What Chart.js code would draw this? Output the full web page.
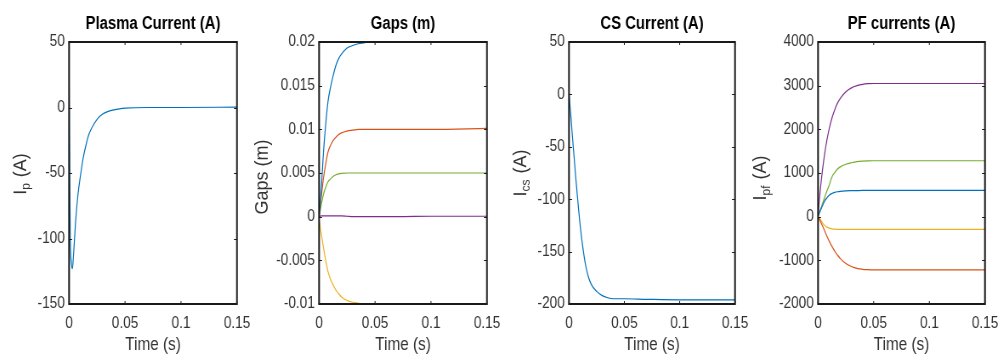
<!DOCTYPE html>
<html>
<head>
<meta charset="utf-8">
<script src="https://cdn.jsdelivr.net/npm/chart.js@4.4.1/dist/chart.umd.min.js"></script>
<style>
  html, body { margin: 0; padding: 0; background: #fff; overflow: hidden; }
  body { width: 998px; height: 356px; position: relative; }
  canvas { position: absolute; top: 0; }
</style>
</head>
<body>
<canvas id="c1"></canvas>
<canvas id="c2"></canvas>
<canvas id="c3"></canvas>
<canvas id="c4"></canvas>
<script>
// shared time base (s)
const time = [0, 0.001, 0.002, 0.003, 0.004, 0.006, 0.008, 0.01, 0.0125, 0.015, 0.0175, 0.02,
              0.025, 0.03, 0.035, 0.04, 0.045, 0.05, 0.07, 0.1, 0.15];
const timeTicks = [0, 0.05, 0.1, 0.15];

// plasma current (A)
const plasmaCurrent = [25, -95, -118, -123, -112, -85, -66, -53, -39, -29, -21, -16,
                       -9, -5, -3, -1.8, -1, -0.5, 0, 0, 0.3];

// gaps (m)
const gapBlue   = [0, 0.0015, 0.0033, 0.0054, 0.0075, 0.0107, 0.0132, 0.0147, 0.0161, 0.0173, 0.0181, 0.0186,
                   0.0193, 0.0196, 0.0198, 0.0199, 0.02, 0.02, 0.02, 0.02, 0.02];
const gapRed    = [0, 0.0012, 0.0023, 0.0034, 0.0045, 0.0061, 0.0074, 0.0081, 0.0087, 0.0091, 0.0094, 0.0096,
                   0.0098, 0.0099, 0.01, 0.01, 0.01, 0.01, 0.01, 0.01, 0.0101];
const gapYellow = [-0.0003, -0.0012, -0.002, -0.0028, -0.0036, -0.0051, -0.0063, -0.0071, -0.0078, -0.0084, -0.0088, -0.0092,
                   -0.0096, -0.0098, -0.0099, -0.01, -0.01, -0.01, -0.01, -0.01, -0.01];
const gapPurple = [0, 0.00005, 0.0001, 0.0001, 0.0001, 0.0001, 0.0001, 0.0001, 0.0001, 0.0001, 0.0001, 0.0001,
                   0.00005, 0, 0, 0, 0, 0, 0, 0.00005, 0.00005];
const gapGreen  = [0, 0.0007, 0.0014, 0.002, 0.0026, 0.0034, 0.004, 0.0043, 0.0046, 0.0048, 0.0049, 0.00495,
                   0.005, 0.005, 0.005, 0.005, 0.005, 0.005, 0.005, 0.005, 0.005];

// CS current (A)
const csCurrent = [2, -12, -25, -39, -52, -78, -102, -124, -146, -163, -174, -181,
                   -188, -192, -194, -195, -195, -195, -195.5, -196, -196];

// PF currents (A)
const pfBlue   = [0, 70, 135, 195, 250, 360, 430, 490, 530, 555, 570, 580,
                  590, 595, 598, 600, 600, 600, 600, 600, 600];
const pfRed    = [0, -50, -100, -155, -210, -330, -450, -560, -680, -790, -880, -960,
                  -1070, -1140, -1185, -1205, -1215, -1220, -1220, -1220, -1220];
const pfYellow = [0, -30, -65, -100, -140, -200, -240, -262, -278, -285, -289, -290,
                  -290, -290, -290, -290, -290, -290, -290, -290, -290];
const pfPurple = [0, 320, 600, 850, 1070, 1450, 1760, 2010, 2260, 2450, 2600, 2710,
                  2860, 2950, 3000, 3030, 3045, 3050, 3050, 3050, 3050];
const pfGreen  = [0, 70, 145, 220, 300, 445, 590, 720, 910, 1010, 1090, 1140,
                  1200, 1235, 1260, 1272, 1278, 1280, 1280, 1280, 1280];

const FONT = '"Liberation Sans", Arial, Helvetica, sans-serif';
const C = { blue: '#0072BD', red: '#D95319', yellow: '#EDB120', purple: '#7E2F8E', green: '#77AC30' };
const K = 0.85; // horizontal squeeze of the figure, text looks narrow like in the picture

function pts(values) {
    return values.map((v, i) => ({ x: time[i], y: v }));
}

function fmt(v) {
    return String(parseFloat(Number(v).toFixed(6)));
}

// box around the axes with small inward ticks
const boxPlugin = {
    id: 'box',
    afterDraw(chart) {
        const ctx = chart.ctx;
        const a = chart.chartArea;
        const xs = chart.scales.x, ys = chart.scales.y;
        ctx.save();
        ctx.strokeStyle = '#1a1a1a';
        ctx.lineWidth = 1;
        xs.ticks.forEach(t => {
            const px = xs.getPixelForValue(t.value);
            ctx.beginPath();
            ctx.moveTo(px, a.bottom); ctx.lineTo(px, a.bottom - 3);
            ctx.moveTo(px, a.top); ctx.lineTo(px, a.top + 3);
            ctx.stroke();
        });
        ys.ticks.forEach(t => {
            const py = Math.round(ys.getPixelForValue(t.value)) + 0.5;
            ctx.beginPath();
            ctx.moveTo(a.left, py); ctx.lineTo(a.left + 3 / K, py);
            ctx.moveTo(a.right, py); ctx.lineTo(a.right - 3 / K, py);
            ctx.stroke();
        });
        ctx.lineWidth = 2;
        ctx.strokeRect(a.left, a.top, a.right - a.left, a.bottom - a.top);
        ctx.restore();
    }
};

// y label with optional subscript (drawn unsqueezed)
const yLabelPlugin = {
    id: 'ylabel',
    afterDraw(chart, args, opts) {
        const ctx = chart.ctx;
        ctx.save();
        ctx.translate(opts.x / K, opts.y);
        ctx.scale(1 / K, 1);
        ctx.rotate(-Math.PI / 2);
        ctx.fillStyle = '#333';
        ctx.textBaseline = 'alphabetic';
        const big = '18px ' + FONT, small = '12px ' + FONT;
        ctx.font = big;
        const w1 = ctx.measureText(opts.main).width;
        const w3 = ctx.measureText(opts.rest).width;
        ctx.font = small;
        const w2 = opts.sub ? ctx.measureText(opts.sub).width + 1 : 0;
        let x = -(w1 + w2 + w3) / 2;
        ctx.font = big;
        ctx.fillText(opts.main, x, 6);
        x += w1;
        if (opts.sub) {
            ctx.font = small;
            ctx.fillText(opts.sub, x, 10);
            x += w2;
        }
        ctx.font = big;
        ctx.fillText(opts.rest, x, 6);
        ctx.restore();
    }
};

function makeChart(id, cssLeft, cssWidth, title, datasets, yMin, yMax, yStep, ylabel) {
    const canvas = document.getElementById(id);
    canvas.width = Math.round(cssWidth / K);
    canvas.height = 356;
    canvas.style.left = cssLeft + 'px';
    canvas.style.width = cssWidth + 'px';
    canvas.style.height = '356px';
    return new Chart(canvas.getContext('2d'), {
        type: 'line',
        data: { datasets: datasets.map(d => ({
            data: pts(d.values),
            borderColor: d.color,
            borderWidth: 1.2,
            pointRadius: 0,
            fill: false,
            cubicInterpolationMode: 'monotone'
        })) },
        options: {
            responsive: false,
            animation: false,
            devicePixelRatio: 1,
            layout: { padding: { left: 0, right: 30 / K, top: 0, bottom: 0 } },
            plugins: {
                legend: { display: false },
                tooltip: { enabled: false },
                title: {
                    display: true,
                    fullSize: false,
                    text: title,
                    color: '#000',
                    font: { family: FONT, size: 17.5, weight: 'bold', lineHeight: 1.2 },
                    padding: { top: 14, bottom: 7 }
                },
                ylabel: ylabel
            },
            scales: {
                x: {
                    type: 'linear',
                    min: 0, max: 0.15,
                    afterBuildTicks: s => { s.ticks = timeTicks.map(v => ({ value: v })); },
                    afterFit: s => { s.height = 52; },
                    grid: { display: false, drawTicks: false },
                    border: { display: false },
                    ticks: { padding: 10, color: '#333', font: { family: FONT, size: 16 }, callback: fmt, maxRotation: 0 },
                    title: { display: true, text: 'Time (s)', color: '#333', font: { family: FONT, size: 18 }, padding: { top: 0, bottom: 0 } }
                },
                y: {
                    min: yMin, max: yMax,
                    ticks: { stepSize: yStep, padding: 5, color: '#333', font: { family: FONT, size: 16 }, callback: fmt },
                    afterFit: s => { s.width = 70 / K; },
                    grid: { display: false, drawTicks: false },
                    border: { display: false }
                }
            }
        },
        plugins: [boxPlugin, yLabelPlugin]
    });
}

makeChart('c1', -1, 268, 'Plasma Current (A)',
    [{ values: plasmaCurrent, color: C.blue }],
    -150, 50, 50, { main: 'I', sub: 'p', rest: ' (A)', x: 21, y: 174 });

makeChart('c2', 249, 268, 'Gaps (m)',
    [{ values: gapBlue, color: C.blue }, { values: gapRed, color: C.red },
     { values: gapYellow, color: C.yellow }, { values: gapPurple, color: C.purple },
     { values: gapGreen, color: C.green }],
    -0.01, 0.02, 0.005, { main: 'Gaps (m)', sub: '', rest: '', x: 13, y: 177 });

makeChart('c3', 499, 266, 'CS Current (A)',
    [{ values: csCurrent, color: C.blue }],
    -200, 50, 50, { main: 'I', sub: 'cs', rest: ' (A)', x: 21, y: 173 });

makeChart('c4', 748, 267, 'PF currents (A)',
    [{ values: pfBlue, color: C.blue }, { values: pfRed, color: C.red },
     { values: pfYellow, color: C.yellow }, { values: pfPurple, color: C.purple },
     { values: pfGreen, color: C.green }],
    -2000, 4000, 1000, { main: 'I', sub: 'pf', rest: ' (A)', x: 12, y: 178 });
</script>
</body>
</html>
